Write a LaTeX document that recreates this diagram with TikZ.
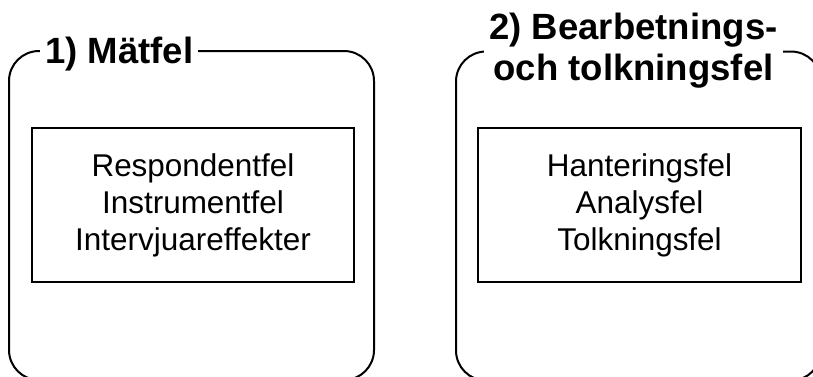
\documentclass[tikz,border=0pt]{standalone}
\usepackage{fontspec}
\setmainfont{Liberation Sans}
\begin{document}
\begin{tikzpicture}[x=0.75pt,y=-0.75pt,
  outerbox/.style={draw, line width=1.5pt, rounded corners=22.5pt, minimum width=273.75pt, minimum height=246.75pt, inner sep=0pt},
  innerbox/.style={draw, line width=1.5pt, minimum height=115.5pt, inner sep=0pt, align=center, font=\fontsize{23.6}{27.75}\selectfont},
  titlebox/.style={fill=white, inner xsep=3.75pt, inner ysep=2pt, font=\fontsize{27.4}{30.75}\selectfont\bfseries}
]
\useasboundingbox (0,0) rectangle (813,376);
\node[outerbox] (g1) at (191.5,215.5) {};
\node[outerbox] (g2) at (638.5,216) {};
\node[innerbox, minimum width=241.5pt] (b1) at (193,205) {Respondentfel\\Instrumentfel\\Intervjuareffekter};
\node[innerbox, minimum width=242.25pt] (b2) at (639.5,205) {Hanteringsfel\\Analysfel\\Tolkningsfel};
\node[titlebox, anchor=base west] (t1) at (40,63) {1) Mätfel};
\node[titlebox, align=center] (t2) at (633.5,50.3) {2) Bearbetnings-\\och tolkningsfel};
\end{tikzpicture}
\end{document}
